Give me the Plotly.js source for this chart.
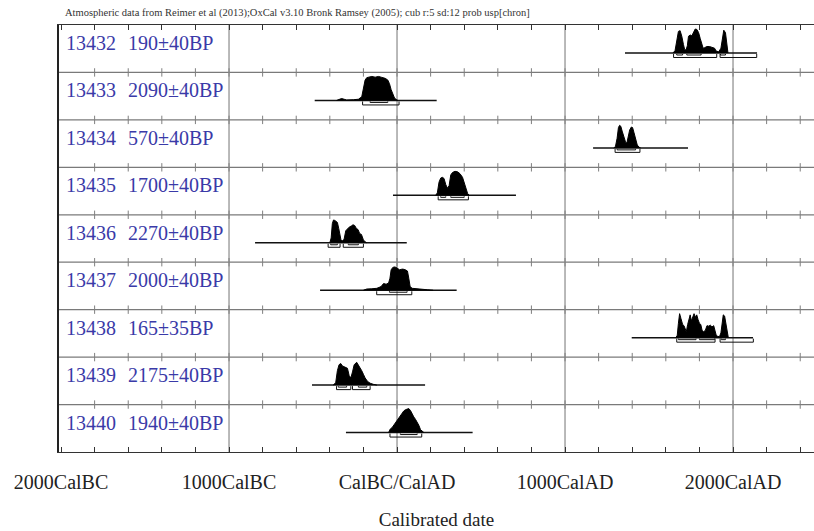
<!DOCTYPE html>
<html>
<head>
<meta charset="utf-8">
<script src="https://cdn.plot.ly/plotly-3.0.1.min.js"></script>
<style>html,body{margin:0;padding:0;background:#fff;}#chart{width:814px;height:531px;}</style>
</head>
<body>
<div id="chart"></div>
<script>
// ---------- data ----------
const sampleIds = ['13432','13433','13434','13435','13436','13437','13438','13439','13440'];
const bpDates = ['190±40BP','2090±40BP','570±40BP','1700±40BP','2270±40BP','2000±40BP','165±35BP','2175±40BP','1940±40BP'];
const rangeFrom = [1357,-490,1167,-24,-845,-458,1397,-506,-304];
const rangeTo   = [2143, 236,1732,708,  58, 355,2119, 167, 450];

const yr13432 = [1645,1655,1665,1675,1685,1695,1705,1712,1720,1728,1735,1745,1755,1765,1775,1785,1795,1805,1815,1822,1830,1845,1860,1875,1890,1900,1915,1928,1935,1945,1955,1962,1970];
const p13432  = [0.02,0.1,0.5,0.9,0.93,0.7,0.35,0.15,0.12,0.3,0.7,0.75,0.72,0.9,1.0,0.98,0.85,0.6,0.35,0.2,0.22,0.27,0.27,0.25,0.2,0.08,0.05,0.2,0.6,0.95,0.85,0.4,0.05];
const yr13433 = [-360,-345,-330,-315,-300,-260,-230,-210,-200,-190,-180,-165,-150,-130,-110,-90,-70,-55,-45,-35,-25,-15,-5,5];
const p13433  = [0,0.05,0.08,0.05,0.02,0.03,0.05,0.15,0.6,0.85,0.95,0.98,1.0,0.97,1.0,0.96,0.92,0.85,0.7,0.45,0.25,0.1,0.04,0];
const yr13434 = [1290,1300,1310,1318,1325,1332,1340,1350,1360,1368,1375,1385,1395,1402,1410,1420,1430,1440,1450];
const p13434  = [0,0.05,0.4,0.85,0.94,0.9,0.7,0.45,0.25,0.2,0.4,0.75,0.87,0.85,0.65,0.35,0.12,0.03,0];
const yr13435 = [230,240,250,260,270,280,290,300,310,320,330,345,360,375,390,400,410,420,430];
const p13435  = [0,0.1,0.55,0.72,0.75,0.7,0.45,0.3,0.4,0.85,0.95,1.0,0.98,0.9,0.75,0.5,0.25,0.08,0];
const yr13436 = [-400,-392,-385,-378,-370,-362,-355,-347,-340,-333,-325,-315,-305,-295,-285,-272,-262,-252,-242,-232,-222,-212,-200,-190,-180];
const p13436  = [0,0.2,0.8,0.95,0.93,0.9,0.85,0.6,0.25,0.1,0.08,0.15,0.5,0.6,0.65,0.7,0.75,0.72,0.6,0.55,0.38,0.35,0.12,0.04,0];
const yr13437 = [-200,-180,-150,-120,-95,-80,-65,-50,-42,-35,-25,-15,-5,5,15,25,35,50,62,70,78,90,110,140,180,215];
const p13437  = [0,0.05,0.06,0.08,0.15,0.28,0.25,0.3,0.5,0.85,0.95,0.97,0.95,0.9,0.85,0.87,0.88,0.85,0.8,0.5,0.15,0.08,0.06,0.04,0.02,0];
const yr13438 = [1660,1668,1675,1682,1690,1700,1708,1715,1722,1730,1738,1745,1752,1760,1768,1776,1784,1792,1800,1808,1816,1825,1835,1845,1855,1865,1875,1885,1893,1900,1910,1920,1928,1935,1942,1950,1958,1965,1972];
const p13438  = [0,0.1,0.6,1.0,0.8,0.55,0.5,0.35,0.25,0.55,0.85,0.95,0.7,0.9,1.0,0.85,0.95,0.75,0.6,0.55,0.3,0.25,0.3,0.5,0.48,0.52,0.45,0.5,0.3,0.1,0.05,0.05,0.2,0.7,0.95,0.9,0.5,0.15,0];
const yr13439 = [-380,-365,-355,-345,-335,-325,-310,-295,-285,-275,-265,-255,-240,-225,-210,-200,-190,-175,-160,-140,-120];
const p13439  = [0,0.1,0.6,0.85,0.9,0.8,0.75,0.7,0.4,0.3,0.55,0.85,0.95,0.8,0.6,0.45,0.3,0.15,0.08,0.03,0];
const yr13440 = [-50,-40,-30,-20,-10,0,10,20,30,40,50,60,70,80,90,100,110,120,130,140,150,160];
const p13440  = [0,0.15,0.2,0.3,0.45,0.55,0.6,0.7,0.8,0.9,0.95,0.98,1.0,0.92,0.75,0.65,0.55,0.45,0.3,0.12,0.04,0];

// 68.2% (1 sigma) and 95.4% (2 sigma) ranges
const sig1 = [
  [[1665,1700],[1725,1810],[1925,1955]],
  [[-160,-55]],
  [[1310,1420]],
  [[260,290],[320,400]],
  [[-395,-355],[-290,-230]],
  [[-45,60]],
  [[1675,1780],[1800,1890],[1930,1955]],
  [[-350,-300],[-230,-180]],
  [[20,120]]
];
const sig2 = [
  [[1646,1903],[1923,2141]],
  [[-205,12]],
  [[1298,1446]],
  [[245,425]],
  [[-410,-339],[-320,-200]],
  [[-121,88]],
  [[1665,1893],[1923,2121]],
  [[-360,-275],[-265,-160]],
  [[-42,147]]
];
const tickYears = [-2000,-1000,0,1000,2000];
const tickText = ['2000CalBC','1000CalBC','CalBC/CalAD','1000CalAD','2000CalAD'];

// ---------- drawing ----------
const yrs = [yr13432,yr13433,yr13434,yr13435,yr13436,yr13437,yr13438,yr13439,yr13440];
const probs = [p13432,p13433,p13434,p13435,p13436,p13437,p13438,p13439,p13440];
const N = sampleIds.length;
const ROWPX = 427 / N;
const px = v => v / ROWPX;          // pixels -> y units
const BASE_OFF = px(28);
const PEAK = px(24);

const traces = [];
const shapes = [];
const annotations = [];

for (let i = 0; i < N; i++) {
  const top = N - i;
  const base = top - BASE_OFF;
  // range line
  traces.push({x:[rangeFrom[i], rangeTo[i]], y:[base, base], mode:'lines',
    line:{color:'#111', width:1.5}, hoverinfo:'skip', showlegend:false});
  // distribution
  const xs = yrs[i], ps = probs[i];
  const X = [xs[0]].concat(xs, [xs[xs.length-1]]);
  const Y = [base].concat(ps.map(p => base + p * PEAK), [base]);
  traces.push({x:X, y:Y, mode:'lines', fill:'toself', fillcolor:'#000',
    line:{color:'#000', width:1}, hoverinfo:'skip', showlegend:false});
  // sigma bars
  const bx = [], by = [];
  sig1[i].forEach(r => { bx.push(r[0], r[0], r[1], r[1], null);
    by.push(base - px(1), base - px(2), base - px(2), base - px(1), null); });
  sig2[i].forEach(r => { bx.push(r[0], r[0], r[1], r[1], null);
    by.push(base - px(1), base - px(4.5), base - px(4.5), base - px(1), null); });
  traces.push({x:bx, y:by, mode:'lines', line:{color:'#111', width:1},
    hoverinfo:'skip', showlegend:false});
  // labels
  annotations.push({xref:'paper', yref:'y', x:0, xshift:5, y:top - px(18), xanchor:'left', yanchor:'middle',
    text:sampleIds[i], showarrow:false, font:{family:'Liberation Serif', size:20, color:'#3a3aa8'}});
  annotations.push({xref:'paper', yref:'y', x:0, xshift:67, y:top - px(18), xanchor:'left', yanchor:'middle',
    text:bpDates[i], showarrow:false, font:{family:'Liberation Serif', size:20, color:'#3a3aa8'}});
}

// row separators and their tick marks
const tkx = [], tky = [];
for (let k = 1; k < N; k++) {
  shapes.push({type:'line', xref:'paper', yref:'y', x0:0, x1:1, y0:k, y1:k, line:{color:'#7a7a7a', width:1.2}, layer:'below'});
  for (let t = -1800; t <= 2400; t += 200) { tkx.push(t); tky.push(k); }
}
traces.push({x:tkx, y:tky, mode:'markers', marker:{symbol:'line-ns-open', size:6, line:{color:'#777', width:1}},
  hoverinfo:'skip', showlegend:false});

// vertical grid lines
[-1000,0,1000,2000].forEach(v => shapes.push({type:'line', xref:'x', yref:'paper', x0:v, x1:v, y0:0, y1:1,
  line:{color:'#8a8a8a', width:1.2}, layer:'below'}));

// header
annotations.push({xref:'paper', yref:'paper', x:0, xshift:4, y:1, yshift:12, xanchor:'left', yanchor:'middle',
  text:'Atmospheric data from Reimer et al (2013);OxCal v3.10 Bronk Ramsey (2005); cub r:5 sd:12 prob usp[chron]',
  showarrow:false, font:{family:'Liberation Serif', size:10.5, color:'#333'}});

const allTicks = [], allText = [];
for (let t = -2000; t <= 2400; t += 200) {
  allTicks.push(t);
  const j = tickYears.indexOf(t);
  allText.push(j >= 0 ? tickText[j] : '');
}

const layout = {
  width:814, height:531,
  margin:{l:59, r:0, t:25, b:79, pad:0},
  paper_bgcolor:'#fff', plot_bgcolor:'#fff',
  xaxis:{range:[-2012, 2482], tickmode:'array', tickvals:allTicks, ticktext:allText,
    ticks:'inside', ticklen:5, tickcolor:'#333', tickwidth:1,
    showline:true, linecolor:'#333', linewidth:1.2, mirror:'ticks',
    showgrid:false, zeroline:false, ticklabelstandoff:12,
    tickfont:{family:'Liberation Serif', size:20, color:'#222'},
    title:{text:'Calibrated date', font:{family:'Liberation Serif', size:19, color:'#222'}, standoff:20}},
  yaxis:{range:[0, N], showticklabels:false, ticks:'', showgrid:false, zeroline:false,
    showline:true, linecolor:'#222', linewidth:2.5, mirror:false},
  shapes:shapes, annotations:annotations, showlegend:false
};

Plotly.newPlot('chart', traces, layout, {displayModeBar:false, staticPlot:true});
</script>
</body>
</html>
